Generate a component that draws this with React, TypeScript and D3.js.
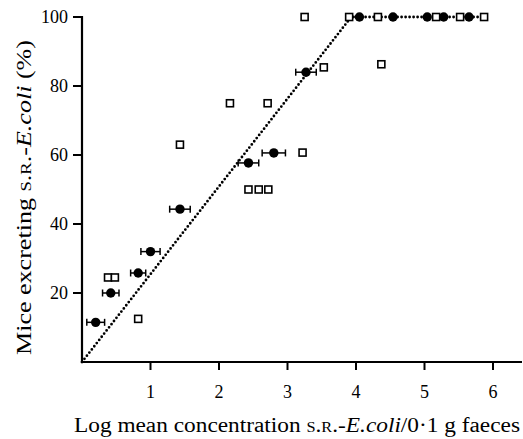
import * as d3 from 'd3';

const WIDTH = 523;
const HEIGHT = 439;
const MARGIN = { top: 17, right: 1, bottom: 77, left: 82 };

// filled circles: log mean concentration, % mice excreting, +/- error (log units)
const circleX = [0.2, 0.42, 0.82, 1.0, 1.43, 2.43, 2.8, 3.27, 4.05, 4.54, 5.04, 5.28, 5.65];
const circleY = [11.5, 20, 25.8, 32, 44.3, 57.7, 60.6, 84, 100, 100, 100, 100, 100];
const circleErr = [0.13, 0.12, 0.11, 0.14, 0.15, 0.15, 0.17, 0.15, 0, 0, 0, 0, 0];

// open squares
const squareX = [0.38, 0.48, 0.82, 1.43, 2.16, 2.71, 2.43, 2.58, 2.72, 3.22, 3.25, 3.53, 3.9, 4.32, 4.37, 5.17, 5.52, 5.87];
const squareY = [24.5, 24.5, 12.5, 63, 75, 75, 50, 50, 50, 60.7, 100, 85.4, 100, 100, 86.3, 100, 100, 100];

// fitted dotted line
const lineX = [0, 3.93, 5.87];
const lineY = [0, 100, 100];

const xTicks = [1, 2, 3, 4, 5, 6];
const yTicks = [20, 40, 60, 80, 100];

const FONT = '"Liberation Serif", "DejaVu Serif", serif';

export default function App() {
  const boundsHeight = HEIGHT - MARGIN.top - MARGIN.bottom;

  const xScale = d3.scaleLinear().domain([0, 6]).range([MARGIN.left, MARGIN.left + 6 * 68.5]);
  const yScale = d3.scaleLinear().domain([0, 100]).range([MARGIN.top + boundsHeight, MARGIN.top]);

  const lineBuilder = d3
    .line<number>()
    .x((d) => xScale(d))
    .y((d, i) => yScale(lineY[i]));
  const linePath = lineBuilder(lineX) || '';

  const x0 = MARGIN.left;
  const yBase = MARGIN.top + boundsHeight;

  return (
    <svg
      width={WIDTH}
      height={HEIGHT}
      style={{ position: 'absolute', left: 0, top: 0, background: '#fff' }}
      fontFamily={FONT}
    >
      {/* axes */}
      <line x1={x0} x2={WIDTH - 1} y1={yBase} y2={yBase} stroke="#000" strokeWidth={2.2} />
      <line x1={x0} x2={x0} y1={MARGIN.top - 1} y2={yBase + 1} stroke="#000" strokeWidth={2.2} />

      {xTicks.map((t) => (
        <g key={'x' + t}>
          <line x1={xScale(t)} x2={xScale(t)} y1={yBase} y2={yBase + 8} stroke="#000" strokeWidth={2} />
          <text x={xScale(t)} y={yBase + 36} textAnchor="middle" fontSize={18}>
            {t}
          </text>
        </g>
      ))}
      {yTicks.map((t) => (
        <g key={'y' + t}>
          <line x1={x0 - 9} x2={x0} y1={yScale(t)} y2={yScale(t)} stroke="#000" strokeWidth={2} />
          <text x={x0 - 14} y={yScale(t) + 6} textAnchor="end" fontSize={18}>
            {t}
          </text>
        </g>
      ))}

      {/* dotted line */}
      <path
        d={linePath}
        fill="none"
        stroke="#000"
        strokeWidth={2.8}
        strokeLinecap="round"
        strokeDasharray="0 4"
      />

      {/* error bars + circles */}
      {circleX.map((x, i) => {
        const cy = yScale(circleY[i]);
        const e = circleErr[i];
        if (!e) return null;
        const a = xScale(x - e);
        const b = xScale(x + e);
        return (
          <g key={'e' + i} stroke="#000" strokeWidth={1.5}>
            <line x1={a} x2={b} y1={cy} y2={cy} />
            <line x1={a} x2={a} y1={cy - 3.5} y2={cy + 3.5} />
            <line x1={b} x2={b} y1={cy - 3.5} y2={cy + 3.5} />
          </g>
        );
      })}
      {circleX.map((x, i) => (
        <circle key={'c' + i} cx={xScale(x)} cy={yScale(circleY[i])} r={4.7} fill="#000" />
      ))}

      {/* squares */}
      {squareX.map((x, i) => (
        <rect
          key={'s' + i}
          x={xScale(x) - 3.5}
          y={yScale(squareY[i]) - 3.5}
          width={7}
          height={7}
          fill="#fff"
          stroke="#000"
          strokeWidth={1.6}
        />
      ))}

      {/* axis titles */}
      <text x={74} y={432} fontSize={20} textLength={446} lengthAdjust="spacingAndGlyphs">
        Log mean concentration{' '}
        <tspan style={{ fontVariant: 'small-caps' }}>s.r.</tspan>-
        <tspan fontStyle="italic">E.coli</tspan>/0·1 g faeces
      </text>
      <text
        transform="translate(31,355) rotate(-90)"
        fontSize={21}
        textLength={315}
        lengthAdjust="spacingAndGlyphs"
      >
        Mice excreting <tspan style={{ fontVariant: 'small-caps' }}>s.r.</tspan>-
        <tspan fontStyle="italic">E.coli</tspan> (%)
      </text>
    </svg>
  );
}
